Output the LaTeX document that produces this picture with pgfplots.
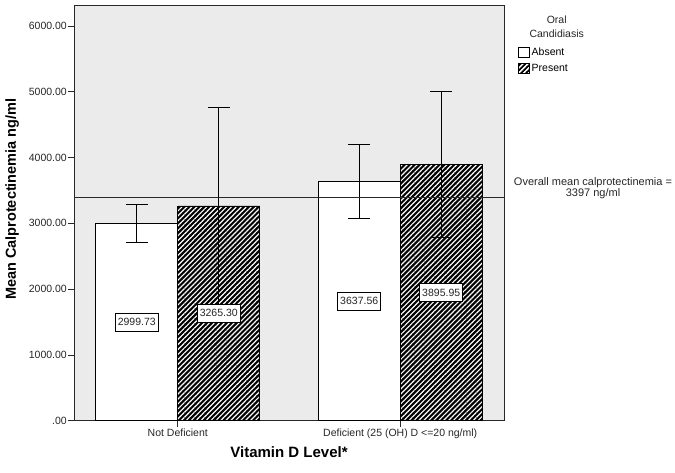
\documentclass[border=0pt]{standalone}
\usepackage{fontspec}
\setmainfont{Liberation Sans}
\usepackage{pgfplots}
\usepackage{pgfplotstable}
\pgfplotsset{compat=1.18}
\usetikzlibrary{patterns.meta}
\definecolor{bgc}{RGB}{235,235,235}
\definecolor{axc}{RGB}{40,40,40}

\pgfplotstableread{
x y err lab
0 2999.73 283 2999.73
1 3637.56 565 3637.56
}\absent
\pgfplotstableread{
x y err lab
0 3265.30 1505 3265.30
1 3895.95 1112 3895.95
}\present

\begin{document}
\begin{tikzpicture}
\useasboundingbox (-74pt,-52.3pt) rectangle (601pt,420.7pt);
\begin{axis}[
  at={(0pt,0pt)}, anchor=south west,
  scale only axis, width=430pt, height=415.7pt,
  clip=false,
  xmin=-0.4665, xmax=1.4665, ymin=0, ymax=6320,
  axis background/.style={fill=bgc},
  axis line style={axc, line width=0.9pt},
  ybar=0pt, bar width=82pt,
  xtick={0,1},
  xticklabels={{Not Deficient},{Deficient (25 (OH) D <=20 ng/ml)}},
  ytick={0,1000,2000,3000,4000,5000,6000},
  yticklabels={.00,1000.00,2000.00,3000.00,4000.00,5000.00,6000.00},
  tick pos=left, tick align=outside, major tick length=6pt,
  tick style={axc, line width=0.8pt},
  ticklabel style={font=\fontsize{10.5}{12}\selectfont, text=black!85},
  yticklabel style={inner xsep=1pt},
  xticklabel style={inner ysep=2pt},
  /pgf/number format/assume math mode=true,
  xlabel={Vitamin D Level*},
  xlabel style={font=\bfseries\fontsize{15}{18}\selectfont, at={(axis description cs:0.5,-0.0753)}, anchor=center},
  ylabel={Mean Calprotectinemia ng/ml},
  ylabel style={font=\bfseries\fontsize{14.5}{17}\selectfont, at={(axis description cs:-0.144,0.533)}, anchor=center},
  legend style={at={(axis description cs:1.033,0.901)}, anchor=north west, draw=none, fill=none,
    font=\fontsize{10.5}{12}\selectfont, inner sep=0pt, row sep=3pt, column sep=0pt,
    nodes={inner sep=1.5pt, text height=8pt, text depth=2pt}},
  legend cell align=left,
  point meta=explicit symbolic,
  visualization depends on={rawy \as \rawy},
  nodes near coords,
  nodes near coords align={center},
  every node near coord/.append style={anchor=center, yshift={-0.0328876*\rawy}, fill=white, draw=black, line width=0.8pt,
    font=\fontsize{10.5}{12}\selectfont, inner xsep=2.5pt, minimum height=18pt, text=black!85},
]
\addplot[fill=white, draw=black, line width=0.8pt,
  legend image code/.code={\draw[fill=white, draw=black, line width=0.8pt] (0pt,-5pt) rectangle (11pt,5pt);},
  error bars/.cd, y dir=both, y explicit,
  error bar style={black, line width=0.8pt},
  error mark options={black, mark size=11pt, line width=0.8pt, rotate=90}]
  table[x=x, y=y, y error=err, meta=lab] {\absent};
\addlegendentry{Absent}
\addplot[fill=black, draw=black, line width=0.8pt,
  postaction={pattern={Lines[angle=45,distance=3.5pt,line width=1.15pt]}, pattern color=white},
  legend image code/.code={\draw[fill=black, draw=black, line width=0.8pt, postaction={pattern={Lines[angle=45,distance=3.5pt,line width=1.15pt]}, pattern color=white}] (0pt,-5pt) rectangle (11pt,5pt);},
  error bars/.cd, y dir=both, y explicit,
  error bar style={black, line width=0.8pt},
  error mark options={black, mark size=11pt, line width=0.8pt, rotate=90}]
  table[x=x, y=y, y error=err, meta=lab] {\present};
\addlegendentry{Present}
\draw[axc, line width=0.9pt] (axis cs:-0.4665,3397) -- (axis cs:1.4665,3397);
\node[align=center, font=\fontsize{10.5}{14}\selectfont, text=black!85] at (axis description cs:1.1226,0.947) {Oral\\Candidiasis};
\node[align=center, font=\fontsize{11}{11.5}\selectfont, text=black!85] at (axis description cs:1.207,0.5598) {Overall mean calprotectinemia =\\3397 ng/ml};
\end{axis}
\end{tikzpicture}
\end{document}
